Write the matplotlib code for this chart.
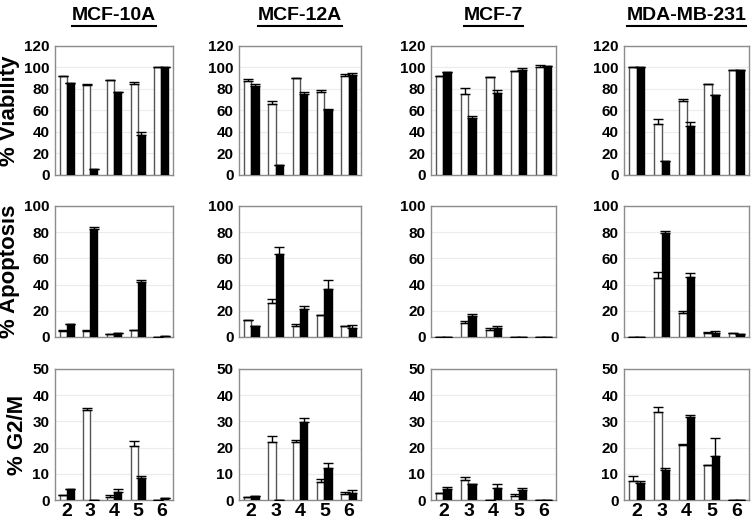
import numpy as np
import matplotlib
matplotlib.use("Agg")
import matplotlib.pyplot as plt
from matplotlib.lines import Line2D

plt.rcParams['font.family'] = ['Liberation Sans', 'DejaVu Sans']

cells = ["MCF-10A", "MCF-12A", "MCF-7", "MDA-MB-231"]
doses = ["2", "3", "4", "5", "6"]
row_labels = ["% Viability", "% Apoptosis", "% G2/M"]
row_ylim = [120, 100, 50]
row_ticks = [np.arange(0, 121, 20), np.arange(0, 101, 20), np.arange(0, 51, 10)]

# viability: white (open) bars and black bars, with upper error
via_white = [[92, 84, 88, 85, 100], [87, 66, 90, 77, 92], [92, 75, 91, 97, 100], [100, 47, 69, 85, 98]]
via_white_err = [[0.5, 0.5, 0.5, 1.5, 0], [2.5, 2.5, 0, 2.5, 1.5], [0, 5.5, 0, 0, 2.5], [0, 5.5, 1.5, 0, 0]]
via_black = [[86, 6, 77, 37, 100], [83, 9, 75, 60, 93], [96, 53, 76, 98, 101], [100, 13, 46, 74, 98]]
via_black_err = [[0, 0, 0, 3, 0], [1.5, 0, 2.5, 1, 1.5], [0, 2, 3, 1.5, 0], [0, 0, 3, 0, 0]]

# apoptosis
apo_white = [[4.5, 4.5, 2, 5, 0.3], [13, 26, 8.5, 17, 8.5], [0, 10.5, 5, 0.3, 0.3], [0, 45, 18.5, 3.4, 3]]
apo_white_err = [[1, 0.5, 0, 0.5, 0], [0, 3, 1.5, 0, 0], [0, 2, 1.5, 0, 0], [0, 4.5, 1.5, 0.7, 0]]
apo_black = [[10, 82.5, 2.8, 42, 0.5], [8.5, 63, 21, 37, 6.7], [0, 16, 7, 0.3, 0.3], [0, 79.5, 46, 3, 2.5]]
apo_black_err = [[0, 1.3, 0, 1.3, 0], [0, 6, 2.3, 6.3, 2.3], [0, 1.5, 1.5, 0, 0], [0, 1.2, 2.6, 1.8, 0]]

# G2/M
g2m_white = [[2, 34.5, 1.3, 20.7, 0], [1.1, 22, 22, 6.8, 2.1], [2.8, 7.5, 0, 1.4, 0], [7.2, 33.5, 21, 13.5, 0]]
g2m_white_err = [[0, 0.7, 0.6, 1.7, 0], [0, 2.6, 1.0, 1.1, 1.0], [0, 1.4, 0, 1.0, 0], [2.0, 1.9, 0.5, 0, 0]]
g2m_black = [[4.1, 0, 2.9, 8.3, 0.9], [1.6, 0, 29.6, 12.4, 2.8], [4.1, 6.2, 4.7, 3.7, 0], [6.6, 11.5, 31.8, 16.8, 0]]
g2m_black_err = [[0, 0, 1.2, 0.7, 0], [0, 0, 1.6, 1.9, 1.0], [0.8, 0, 1.5, 0.9, 0], [0.5, 0.7, 0.7, 7.0, 0]]

rows = [
    (via_white, via_white_err, via_black, via_black_err),
    (apo_white, apo_white_err, apo_black, apo_black_err),
    (g2m_white, g2m_white_err, g2m_black, g2m_black_err),
]

W, H = 755, 525
fig = plt.figure(figsize=(W / 100, H / 100), dpi=100)

col_px = [(55, 173), (239, 361), (431, 556), (624, 749)]
row_px = [(46, 175), (206, 337), (369, 500)]

x = np.arange(len(doses))
bw = 0.3

for r, (wv, we, bv, be) in enumerate(rows):
    for c in range(4):
        x0, x1 = col_px[c]
        y0, y1 = row_px[r]
        ax = fig.add_axes([x0 / W, 1 - y1 / H, (x1 - x0) / W, (y1 - y0) / H])
        ax.bar(x - bw / 2, wv[c], bw, color='white', edgecolor='#555555', linewidth=1.0,
               yerr=[np.zeros(5), we[c]], capsize=3.5,
               error_kw=dict(ecolor='black', elinewidth=1.0, capthick=1.0), zorder=3)
        ax.bar(x + bw / 2, bv[c], bw, color='black', edgecolor='black', linewidth=1.0,
               yerr=[np.zeros(5), be[c]], capsize=3.5,
               error_kw=dict(ecolor='black', elinewidth=1.0, capthick=1.0), zorder=3)
        ax.set_xlim(-0.5, 4.5)
        ax.set_ylim(0, row_ylim[r])
        ax.set_yticks(row_ticks[r])
        ax.grid(axis='y', color='#ececec', linewidth=0.8, zorder=0)
        for s in ax.spines.values():
            s.set_color('#8c8c8c')
            s.set_linewidth(1.0)
        ax.tick_params(axis='y', length=0, labelsize=11, pad=4)
        for lab in ax.get_yticklabels():
            lab.set_fontweight('bold')
        ax.set_xticks(x)
        if r == 2:
            ax.set_xticklabels(doses, fontsize=14, fontweight='bold')
            ax.tick_params(axis='x', length=0, pad=2)
        else:
            ax.set_xticklabels([])
            ax.tick_params(axis='x', length=0)
        if c == 0:
            ax.set_ylabel(row_labels[r], fontsize=16, fontweight='bold', labelpad=3)

titles = []
for c, name in enumerate(cells):
    x0, x1 = col_px[c]
    t = fig.text((x0 + x1) / 2 / W, 1 - 16 / H, name, ha='center', va='center',
                 fontsize=14, fontweight='bold')
    titles.append(t)

fig.canvas.draw()
rend = fig.canvas.get_renderer()
for t in titles:
    bb = t.get_window_extent(rend)
    yline = bb.y0 - 1
    fig.add_artist(Line2D([bb.x0 / W, bb.x1 / W], [yline / H, yline / H],
                          transform=fig.transFigure, color='black', linewidth=1.5))

fig.savefig("out.png", dpi=100)
